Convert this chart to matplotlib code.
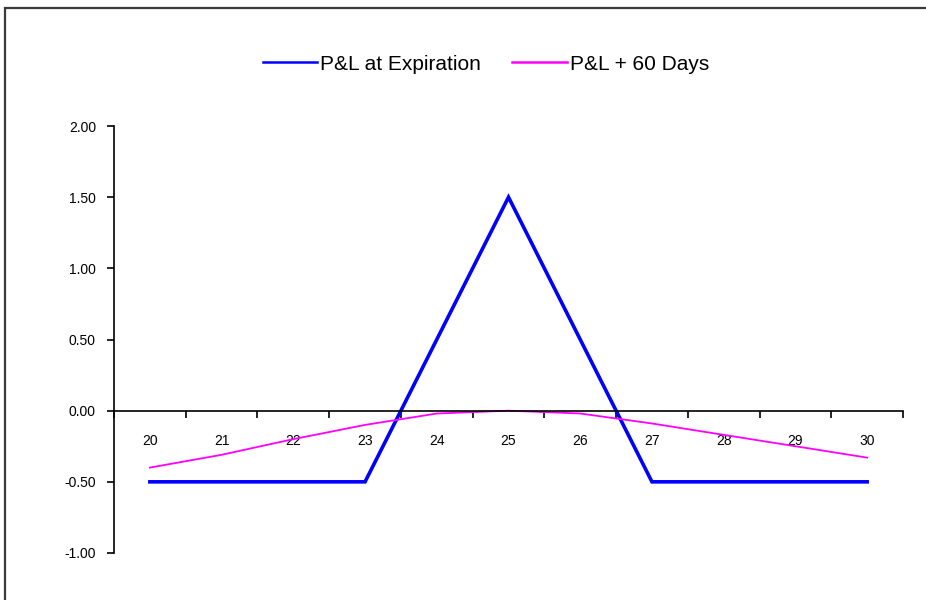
"""
Long straddle-style P&L profile: expiration vs. +60 days.
"""
import matplotlib
matplotlib.use("Agg")
import matplotlib.pyplot as plt
from matplotlib.patches import Rectangle

plt.rcParams["font.family"] = ["Liberation Sans", "DejaVu Sans"]

prices = [20, 21, 22, 23, 24, 25, 26, 27, 28, 29, 30]
pnl_expiration = [-0.50, -0.50, -0.50, -0.50, 0.50, 1.50, 0.50, -0.50, -0.50, -0.50, -0.50]
pnl_60_days = [-0.40, -0.31, -0.20, -0.10, -0.02, 0.00, -0.02, -0.09, -0.17, -0.25, -0.33]
y_ticks = [-1.0, -0.5, 0.0, 0.5, 1.0, 1.5, 2.0]

W, H = 926, 600
fig = plt.figure(figsize=(W / 100, H / 100), dpi=100)
fig.patch.set_facecolor("white")

# chart area border (runs off the right/bottom edge like the source)
fig.patches.append(Rectangle((5 / W, -0.05), 1.1, 1 - 8 / H + 0.05,
                             transform=fig.transFigure, fill=False,
                             edgecolor="#3a3a3a", linewidth=1.6))

ax = fig.add_axes([114 / W, 1 - 553 / H, 789 / W, 427 / H])
ax.set_facecolor("none")

l1, = ax.plot(prices, pnl_expiration, color="#0000ff", linewidth=2.6,
              label="P&L at Expiration", solid_joinstyle="miter")
l2, = ax.plot(prices, pnl_60_days, color="#ff00ff", linewidth=1.3,
              label="P&L + 60 Days")

ax.set_xlim(prices[0] - 0.5, prices[-1] + 0.5)
ax.set_ylim(y_ticks[0], y_ticks[-1])

for s in ["top", "right"]:
    ax.spines[s].set_visible(False)
ax.spines["bottom"].set_position(("data", 0))
ax.spines["bottom"].set_linewidth(1.2)
ax.spines["left"].set_linewidth(1.2)

# category axis: tick marks between categories, labels on categories
ax.set_xticks([p - 0.5 for p in prices] + [prices[-1] + 0.5])
ax.set_xticklabels([])
ax.set_xticks(prices, minor=True)
ax.set_xticklabels([str(p) for p in prices], minor=True)
ax.tick_params(axis="x", which="major", direction="out", length=5, width=1.2)
ax.tick_params(axis="x", which="minor", length=0, pad=17, labelsize=10)

ax.set_yticks(y_ticks)
ax.set_yticklabels([f"{v:.2f}" for v in y_ticks])
ax.tick_params(axis="y", direction="out", length=5, width=1.2, labelsize=10, pad=8)

leg = fig.legend(handles=[l1, l2], loc="center", bbox_to_anchor=(486 / W, 1 - 64 / H),
                 ncol=2, frameon=False, fontsize=15, handlelength=2.6,
                 handletextpad=0.15, columnspacing=1.5)
for ln in leg.get_lines():
    ln.set_linewidth(1.8)

fig.savefig("out.png", dpi=100)
